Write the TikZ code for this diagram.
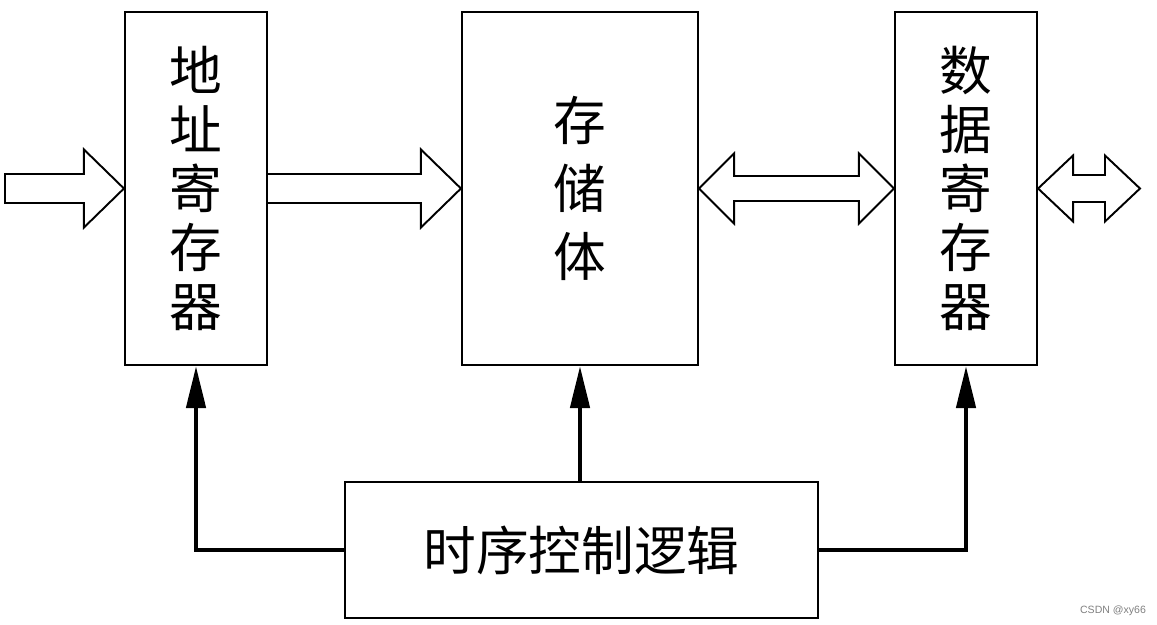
\documentclass[tikz,border=0pt]{standalone}
\usepackage{fontspec}
\usepackage{tikz}
\usetikzlibrary{calc,positioning,arrows.meta}
\newfontfamily\cjk{Noto Sans CJK SC}
\newfontfamily\wm{Liberation Sans}
\tikzset{
  reg/.style={
    shape = rectangle,
    draw,
    line width = 1.2pt,
    inner sep = 0pt,
    align = center,
    font = \cjk\fontsize{30}{33.5}\selectfont
  },
}
\tikzset{
  hollow/.style={
    draw,
    fill = white,
    line width = 1.1pt,
    line join = miter
  },
  ctl/.style={
    line width = 2.6pt,
    -{Triangle[length=0.84cm,width=0.38cm]}
  },
  wmark/.style={
    text = gray,
    inner sep = 0pt,
    font = \wm\fontsize{6}{7}\selectfont
  }
}

\begin{document}
\begin{tikzpicture}
        \fill[white] (0,0) rectangle (23.14,-12.5);
        \useasboundingbox (0,0) rectangle (23.14,-12.5);

        \node[reg, minimum width=2.84cm, minimum height=7.06cm] (addr) at (3.92,-3.77) {地\\址\\寄\\存\\器};
        \node[reg, minimum width=4.72cm, minimum height=7.06cm,
              font=\cjk\fontsize{30}{38.5}\selectfont] (store) at (11.6,-3.77) {存\\储\\体};
        \node[reg, minimum width=2.84cm, minimum height=7.06cm] (data) at (19.32,-3.77) {数\\据\\寄\\存\\器};
        \node[reg, minimum width=9.46cm, minimum height=2.72cm] (ctrl) at (11.63,-11.0) {时序控制逻辑};

        \coordinate (in) at (0.1,-3.77);
        \coordinate (out) at (22.8,-3.77);

        % single hollow arrows
        \def\hl{0.8};
        \def\sh{0.29};
        \def\hh{0.78};
        \draw[hollow] ($(in)+(0,\sh)$) -- ($(addr.west)+(-\hl,\sh)$) -- ($(addr.west)+(-\hl,\hh)$)
             -- (addr.west) -- ($(addr.west)+(-\hl,-\hh)$) -- ($(addr.west)+(-\hl,-\sh)$)
             -- ($(in)+(0,-\sh)$) -- cycle;
        \draw[hollow] ($(addr.east)+(0,\sh)$) -- ($(store.west)+(-\hl,\sh)$) -- ($(store.west)+(-\hl,\hh)$)
             -- (store.west) -- ($(store.west)+(-\hl,-\hh)$) -- ($(store.west)+(-\hl,-\sh)$)
             -- ($(addr.east)+(0,-\sh)$);

        % double hollow arrows
        \def\hl{0.7};
        \def\sh{0.25};
        \def\hh{0.7};
        \draw[hollow] (store.east) -- ($(store.east)+(\hl,\hh)$) -- ($(store.east)+(\hl,\sh)$)
             -- ($(data.west)+(-\hl,\sh)$) -- ($(data.west)+(-\hl,\hh)$) -- (data.west)
             -- ($(data.west)+(-\hl,-\hh)$) -- ($(data.west)+(-\hl,-\sh)$)
             -- ($(store.east)+(\hl,-\sh)$) -- ($(store.east)+(\hl,-\hh)$) -- cycle;
        \def\sh{0.27};
        \def\hh{0.66};
        \draw[hollow] (data.east) -- ($(data.east)+(\hl,\hh)$) -- ($(data.east)+(\hl,\sh)$)
             -- ($(out)+(-\hl,\sh)$) -- ($(out)+(-\hl,\hh)$) -- (out)
             -- ($(out)+(-\hl,-\hh)$) -- ($(out)+(-\hl,-\sh)$)
             -- ($(data.east)+(\hl,-\sh)$) -- ($(data.east)+(\hl,-\hh)$) -- cycle;

        % control lines
        \draw[ctl] (ctrl.west) -| (addr.south);
        \draw[ctl] (store.south |- ctrl.north) -- (store.south);
        \draw[ctl] (ctrl.east) -| (data.south);

        \node[wmark] (wm) at (22.26,-12.22) {CSDN @xy66};
\end{tikzpicture}
\end{document}
